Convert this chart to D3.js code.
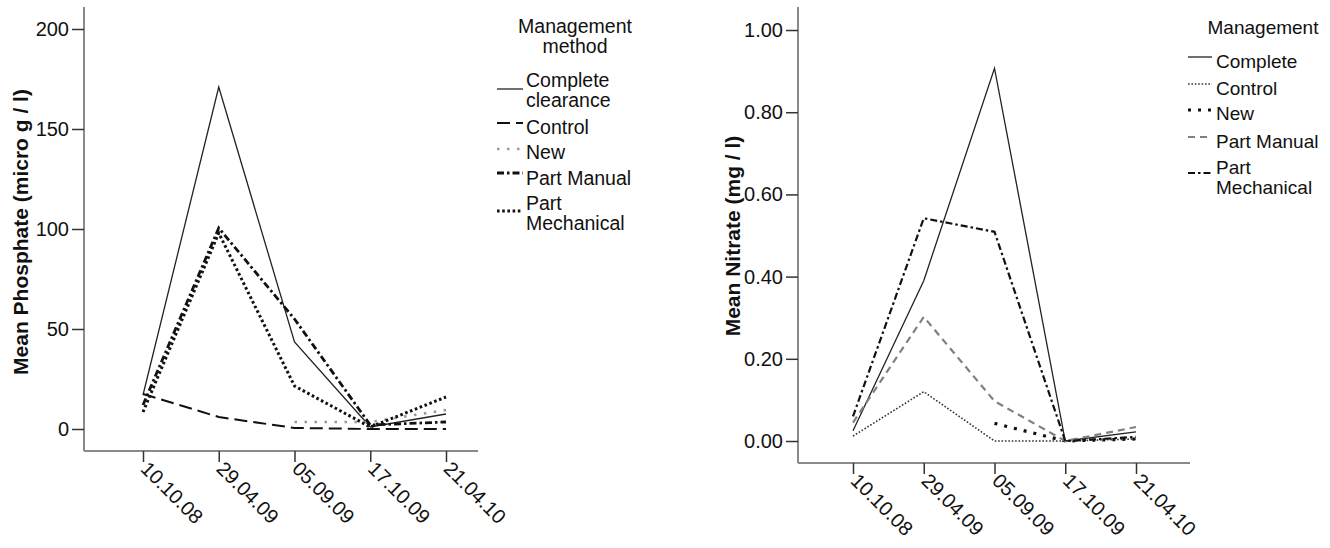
<!DOCTYPE html>
<html><head><meta charset="utf-8">
<script src="https://cdn.jsdelivr.net/npm/d3@7"></script>
<style>
html,body{margin:0;padding:0;background:#fff;}
text{font-family:"Liberation Sans",Arial,sans-serif;fill:#111;}
</style></head>
<body>
<svg id="c" width="1330" height="548"></svg>
<script>
// ---- data ----
const dates = ["10.10.08", "29.04.09", "05.09.09", "17.10.09", "21.04.10"];

// Phosphate (micro g / l)
const phosSeries = ["Complete clearance", "Control", "New", "Part Manual", "Part Mechanical"];
const phosComplete   = [17, 171, 43.5, 1, 7.5];
const phosControl    = [17.5, 6, 0.5, 0, 0];
const phosNew        = [null, null, 3.5, 3.5, 9.5];
const phosPartManual = [12, 100.5, 55, 2, 3.5];
const phosPartMech   = [8.5, 98, 21.5, 1, 16];
const phosTicks = [0, 50, 100, 150, 200];

// Nitrate (mg / l)
const nitSeries = ["Complete", "Control", "New", "Part Manual", "Part Mechanical"];
const nitComplete   = [0.025, 0.39, 0.907, 0, 0.022];
const nitControl    = [0.012, 0.12, 0, 0, 0.005];
const nitNew        = [null, null, 0.043, 0, 0.005];
const nitPartManual = [0.045, 0.302, 0.097, 0, 0.034];
const nitPartMech   = [0.06, 0.542, 0.509, 0, 0.01];
const nitTicks = [0, 0.2, 0.4, 0.6, 0.8, 1.0];

const svg = d3.select("#c");

function chart(cfg) {
  const g = svg.append("g");
  const x = d3.scalePoint().domain(dates).range(cfg.xRange);
  const y = d3.scaleLinear().domain(cfg.yDomain).range([cfg.axisBottom, cfg.axisTop]);

  // axis lines (gray)
  g.append("line").attr("x1", cfg.axisLeft).attr("x2", cfg.axisLeft)
    .attr("y1", cfg.axisTop).attr("y2", cfg.axisBottom)
    .attr("stroke", "#8a8a8a").attr("stroke-width", 2);
  g.append("line").attr("x1", cfg.axisLeft).attr("x2", cfg.axisRight)
    .attr("y1", cfg.axisBottom).attr("y2", cfg.axisBottom)
    .attr("stroke", "#8a8a8a").attr("stroke-width", 2);

  // y axis ticks
  const ya = g.append("g").attr("transform", `translate(${cfg.axisLeft},0)`)
    .call(d3.axisLeft(y).tickValues(cfg.ticks).tickFormat(cfg.fmt).tickSize(12).tickSizeOuter(0).tickPadding(3));
  ya.select(".domain").remove();
  ya.selectAll(".tick line").attr("stroke", "#333").attr("stroke-width", 1.5);
  ya.selectAll(".tick text").attr("font-size", 20).attr("fill", "#111")
    .attr("font-family", '"Liberation Sans",Arial,sans-serif');

  // x axis ticks
  const xa = g.append("g").attr("transform", `translate(0,${cfg.axisBottom})`)
    .call(d3.axisBottom(x).tickSize(11).tickSizeOuter(0).tickPadding(0));
  xa.select(".domain").remove();
  xa.selectAll(".tick line").attr("stroke", "#333").attr("stroke-width", 1.5);
  xa.selectAll(".tick text")
    .attr("font-size", 20).attr("fill", "#111")
    .attr("font-family", '"Liberation Sans",Arial,sans-serif')
    .attr("text-anchor", "start")
    .attr("transform", "translate(1,14) rotate(45)")
    .attr("x", 0).attr("y", 0).attr("dy", "0.35em");

  // y title
  g.append("text")
    .attr("transform", `translate(${cfg.titleX},${cfg.titleY}) rotate(-90)`)
    .attr("text-anchor", "middle").attr("dy", "0.35em")
    .attr("font-size", 21).attr("font-weight", "bold")
    .text(cfg.title);

  // lines
  const line = d3.line().defined(d => d.v != null)
    .x(d => x(d.date)).y(d => y(d.v));
  cfg.series.forEach((s, i) => {
    const pts = dates.map((dt, j) => ({date: dt, v: cfg.values[i][j]}));
    g.append("path").datum(pts).attr("d", line)
      .attr("fill", "none")
      .attr("stroke", cfg.styles[i].color)
      .attr("stroke-width", cfg.styles[i].w)
      .attr("stroke-dasharray", cfg.styles[i].dash)
      .attr("stroke-linecap", cfg.styles[i].cap || "butt");
  });

  // legend
  const lg = g.append("g");
  cfg.legendTitle.forEach((t, k) => {
    lg.append("text").attr("x", cfg.legend.titleX).attr("y", cfg.legend.titleY + k * 20)
      .attr("text-anchor", "middle").attr("dy", "0.35em")
      .attr("font-size", cfg.legend.fs).text(t);
  });
  cfg.legendLabels.forEach((lbl, i) => {
    const ly = cfg.legend.rows[i];
    lbl.forEach((t, k) => {
      lg.append("text").attr("x", cfg.legend.textX).attr("y", ly[0] + k * 20)
        .attr("dy", "0.35em").attr("font-size", cfg.legend.fs).text(t);
    });
    const sy = ly[1];
    lg.append("line").attr("x1", cfg.legend.symX1).attr("x2", cfg.legend.symX2)
      .attr("y1", sy).attr("y2", sy)
      .attr("stroke", cfg.styles[i].color)
      .attr("stroke-width", cfg.styles[i].w)
      .attr("stroke-dasharray", cfg.styles[i].dash)
      .attr("stroke-linecap", cfg.styles[i].cap || "butt");
  });
}

chart({
  xRange: [143, 446], axisLeft: 84, axisRight: 478, axisTop: 7, axisBottom: 451,
  yDomain: [-11, 211], ticks: phosTicks, fmt: d3.format("d"),
  titleX: 21, titleY: 232, title: "Mean Phosphate (micro g / l)",
  series: phosSeries,
  values: [phosComplete, phosControl, phosNew, phosPartManual, phosPartMech],
  styles: [
    {color: "#222", w: 1.3, dash: null},
    {color: "#111", w: 2, dash: "13,6"},
    {color: "#999", w: 2.6, dash: "2.5,7.5", cap: "butt"},
    {color: "#111", w: 2.8, dash: "7,3,2.5,3"},
    {color: "#111", w: 3, dash: "2.6,2.6"}
  ],
  legendTitle: ["Management", "method"],
  legendLabels: [["Complete", "clearance"], ["Control"], ["New"], ["Part Manual"], ["Part", "Mechanical"]],
  legend: {titleX: 575, titleY: 26, textX: 526, symX1: 497, symX2: 523, fs: 19.5,
    rows: [[80, 89], [127, 123], [152, 149], [178, 173], [203, 211]]}
});

chart({
  xRange: [853, 1136], axisLeft: 798, axisRight: 1190, axisTop: 7, axisBottom: 463,
  yDomain: [-0.0535, 1.056], ticks: nitTicks, fmt: d3.format(".2f"),
  titleX: 733, titleY: 236, title: "Mean Nitrate (mg / l)",
  series: nitSeries,
  values: [nitComplete, nitControl, nitNew, nitPartManual, nitPartMech],
  styles: [
    {color: "#222", w: 1.3, dash: null},
    {color: "#333", w: 1.6, dash: "1.6,1.8"},
    {color: "#111", w: 3.2, dash: "3,7"},
    {color: "#808080", w: 2.2, dash: "7,5"},
    {color: "#111", w: 2.2, dash: "7,3,2.5,3"}
  ],
  legendTitle: ["Management"],
  legendLabels: [["Complete"], ["Control"], ["New"], ["Part Manual"], ["Part", "Mechanical"]],
  legend: {titleX: 1263, titleY: 27, textX: 1216, symX1: 1188, symX2: 1212, fs: 19,
    rows: [[61, 57], [88, 84], [113, 110], [141, 137], [167, 173]]}
});
</script>
</body></html>
